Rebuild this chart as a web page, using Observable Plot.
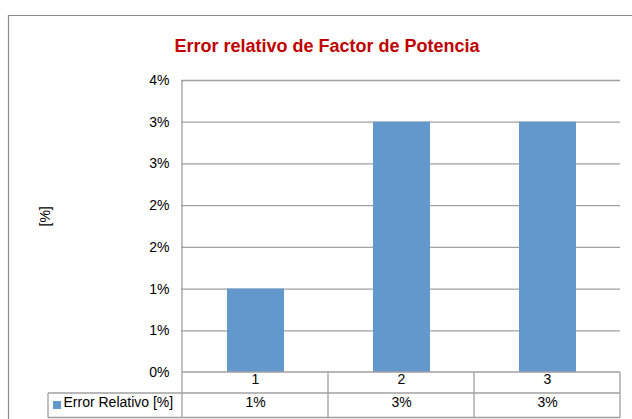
<!DOCTYPE html>
<html>
<head>
<meta charset="utf-8">
<script src="https://cdn.jsdelivr.net/npm/d3@7"></script>
<script src="https://cdn.jsdelivr.net/npm/@observablehq/plot@0.6"></script>
<style>
  html, body { margin: 0; padding: 0; background: #fff; }
  #chart { position: relative; width: 632px; height: 419px; overflow: hidden; }
  #chart svg { position: absolute; left: 0; top: 0; overflow: visible; }
</style>
</head>
<body>
<div id="chart"></div>
<script>
const title = "Error relativo de Factor de Potencia";
const yLabel = "[%]";
const seriesName = "Error Relativo [%]";
const categories = ["1", "2", "3"];
const values = [1.0, 3.0, 3.0];
const valueLabels = ["1%", "3%", "3%"];
const yTicks = [0, 0.5, 1, 1.5, 2, 2.5, 3, 3.5];

const data = categories.map((c, i) => ({cat: c, value: values[i], label: valueLabels[i]}));
const barColor = "#6398cc";
const lineColor = "#a0a0a0";

const plot = Plot.plot({
  width: 632,
  height: 419,
  marginLeft: 181,
  marginRight: 12,
  marginTop: 80,
  marginBottom: 47,
  style: {fontFamily: "'Liberation Sans', Arial, sans-serif", fontSize: "14px", color: "#000", background: "transparent", overflow: "visible"},
  x: {domain: categories, padding: 0, axis: null},
  y: {domain: [0, 3.5], ticks: yTicks, tickFormat: d => Math.round(d) + "%", tickSize: 0, tickPadding: 12, label: null},
  marks: [
    Plot.ruleY(yTicks.filter(t => t > 0), {stroke: lineColor, strokeWidth: 1.3}),
    Plot.barY(data, {x: "cat", y: "value", fill: barColor, insetLeft: 45, insetRight: 44}),
    Plot.text(data, {x: "cat", text: "cat", frameAnchor: "bottom", dy: 11, fill: "#000", fontSize: 14}),
    Plot.text(data, {x: "cat", text: "label", frameAnchor: "bottom", dy: 34, fill: "#000", fontSize: 14}),
    Plot.text([seriesName], {frameAnchor: "bottom-left", dx: -118, dy: 34, textAnchor: "start", fill: "#000", fontSize: 14}),
    Plot.text([yLabel], {frameAnchor: "left", dx: -136, rotate: -90, fill: "#000", fontSize: 14}),
    Plot.text([title], {frameAnchor: "top", dx: -74, dy: -41, fill: "#c00000", fontWeight: "bold", fontSize: 18})
  ]
});

document.getElementById("chart").appendChild(plot);

// Excel-style frame, axis line and data table using the plot's own scales
const xs = plot.scale("x");
const ys = plot.scale("y");
const bw = xs.bandwidth;
const xLeft = xs.apply(categories[0]);
const xRight = xs.apply(categories[categories.length - 1]) + bw;
const y0 = ys.apply(0);
const yTop = ys.apply(3.5);
const row1 = y0 + 21;
const row2 = y0 + 45.5;
const legendLeft = 48;

const svg = d3.select(plot);
const g = svg.append("g").attr("stroke", lineColor).attr("stroke-width", 1.3).attr("fill", "none");
// outer chart border
g.append("path").attr("d", `M8.5,${419 + 5}V15.5H${640}`).attr("stroke", "#8c8c8c").attr("stroke-width", 1.2);
// y axis line + table left edge
g.append("line").attr("x1", xLeft).attr("x2", xLeft).attr("y1", yTop).attr("y2", row2);
// horizontal table lines
g.append("line").attr("x1", xLeft).attr("x2", xRight).attr("y1", y0).attr("y2", y0);
g.append("line").attr("x1", legendLeft).attr("x2", xRight).attr("y1", row1).attr("y2", row1);
g.append("line").attr("x1", legendLeft).attr("x2", xRight).attr("y1", row2).attr("y2", row2);
// vertical table lines
categories.forEach(c => {
  const xe = xs.apply(c) + bw;
  g.append("line").attr("x1", xe).attr("x2", xe).attr("y1", y0).attr("y2", row2);
});
g.append("line").attr("x1", legendLeft).attr("x2", legendLeft).attr("y1", row1).attr("y2", row2);
// legend swatch
svg.append("rect").attr("x", 53).attr("y", row1 + 8).attr("width", 8).attr("height", 8).attr("fill", barColor);
</script>
</body>
</html>
